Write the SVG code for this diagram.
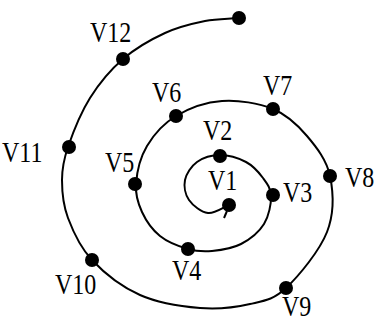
<svg xmlns="http://www.w3.org/2000/svg" width="375" height="324" viewBox="0 0 375 324">
<style>
.lbl{font-family:"Liberation Serif","Times New Roman",serif;font-size:24px;fill:#000}
.dot{fill:#000}
.edge{fill:none;stroke:#000;stroke-width:2}
</style>
<rect width="375" height="324" fill="#fff"/>
<g id="connectors">
<path class="edge" d="M229,205 C222,208 214.7,213.8 208,213 S192.8,205.5 189,200 S183.7,186.3 185,180 S191.2,166.2 197,162 S211.8,155 220,155 S238.8,158.2 246,162 S258.8,172.3 263,178 S270.8,188.3 271,196 S269,216 264,224 S249.7,239.5 241,244 S220.8,250.2 212,251 S196.7,251.5 188,249 S167.7,242.2 160,236 S146,220.7 142,212 S135.2,195 136,184 S140.3,157.3 147,146 S163.5,123.5 176,116 S205.8,102.2 222,101 S258.8,103.2 273,109 S297.5,124.8 307,136 S326.7,160 330,176 S334.3,213.3 327,232 S298.8,276 286,288 S264.3,300.7 250,304 S218.3,309.5 200,308 S158,303 140,295 S104,272.8 92,260 S73,231.3 68,218 S62,191.8 62,180 S63.3,160.7 68,147 S80.8,112.7 90,98 S110.5,69.8 123,59 S151.3,39.3 165,33 S192.7,23.5 205,21 S227.7,19 239,18"/>
<path class="edge" d="M227,211 L224,218" stroke-width="1.5"/>
</g>
<g id="V1"><circle class="dot" cx="229" cy="205" r="7"/><text class="lbl" transform="translate(208,190) scale(1,1.25)">V1</text></g>
<g id="V2"><circle class="dot" cx="220" cy="156" r="7"/><text class="lbl" transform="translate(203,140) scale(1,1.25)">V2</text></g>
<g id="V3"><circle class="dot" cx="273" cy="195" r="7"/><text class="lbl" transform="translate(283,202) scale(1,1.25)">V3</text></g>
<g id="V4"><circle class="dot" cx="188" cy="249" r="7"/><text class="lbl" transform="translate(172,280) scale(1,1.25)">V4</text></g>
<g id="V5"><circle class="dot" cx="135" cy="184" r="7"/><text class="lbl" transform="translate(105,172) scale(1,1.25)">V5</text></g>
<g id="V6"><circle class="dot" cx="176" cy="116" r="7"/><text class="lbl" transform="translate(152,102) scale(1,1.25)">V6</text></g>
<g id="V7"><circle class="dot" cx="273" cy="109" r="7"/><text class="lbl" transform="translate(263,95) scale(1,1.25)">V7</text></g>
<g id="V8"><circle class="dot" cx="330" cy="176" r="7"/><text class="lbl" transform="translate(345,187) scale(1,1.25)">V8</text></g>
<g id="V9"><circle class="dot" cx="286" cy="288" r="7"/><text class="lbl" transform="translate(282,316) scale(1,1.2)">V9</text></g>
<g id="V10"><circle class="dot" cx="92" cy="260" r="7"/><text class="lbl" transform="translate(55,294) scale(1,1.25)">V10</text></g>
<g id="V11"><circle class="dot" cx="69" cy="147" r="7"/><text class="lbl" transform="translate(2,162) scale(1,1.25)">V11</text></g>
<g id="V12"><circle class="dot" cx="123" cy="59" r="7"/><text class="lbl" transform="translate(90,42) scale(1,1.25)">V12</text></g>
<g id="end"><circle class="dot" cx="239" cy="18" r="7"/></g>
</svg>
